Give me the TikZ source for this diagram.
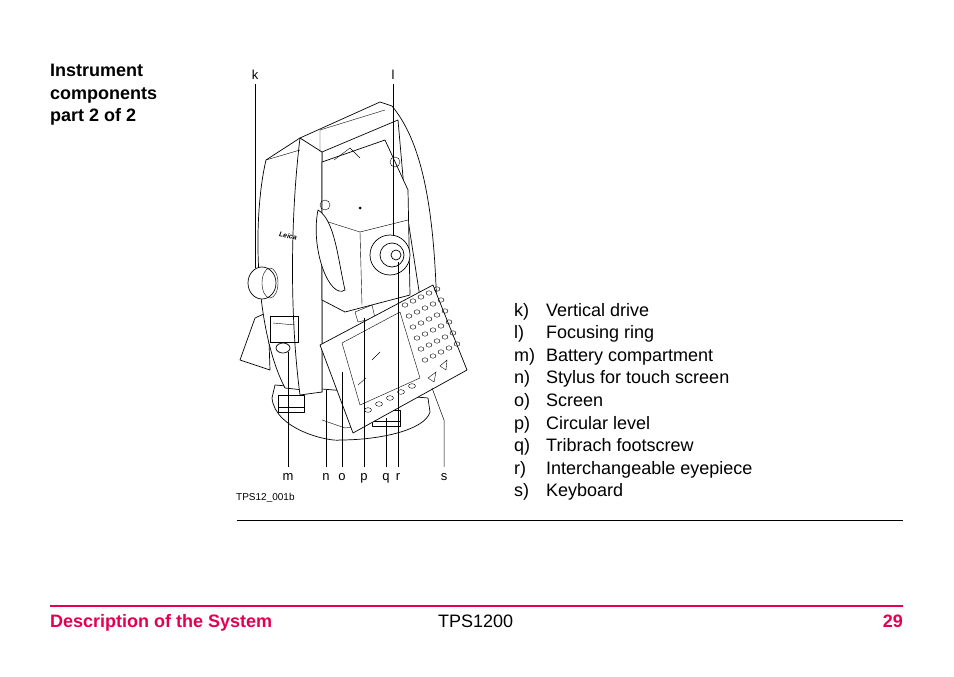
\documentclass[tikz,border=0pt]{standalone}
\usepackage{fontspec}
\setmainfont{Liberation Sans}
\usetikzlibrary{positioning,calc}
\definecolor{leicared}{RGB}{227,0,82}
\tikzset{
  body/.style={draw=black,line width=0.7pt,fill=white,line join=round},
  thin/.style={draw=black,line width=0.4pt},
  lead/.style={draw=black,line width=0.5pt},
  partlbl/.style={font=\fontsize{13}{15}\selectfont,inner sep=0pt,anchor=base},
  item/.style={font=\fontsize{18}{20}\selectfont,anchor=base west,inner sep=0pt},
}
\begin{document}
\begin{tikzpicture}[x=1pt,y=-1pt]
\useasboundingbox (0,0) rectangle (954,677);
%Kopf
\node[anchor=north west,align=left,inner sep=0pt,font=\bfseries\fontsize{18}{22.5}\selectfont] (title) at (50,64) {Instrument\\components\\part 2 of 2};
%Gestell links
\draw[body] (240,360) -- (255,318) -- (268,312) -- (270,370) -- cycle;
%Dreifuss
\draw[body] (272,398) .. controls (275,430) and (330,442) .. (340,440) .. controls (380,440) and (425,430) .. (430,412) -- (428,398) -- (275,385) -- cycle;
\draw[thin] (322,420) -- (345,428) -- (360,426);
%Stuetze links
\draw[body] (266,160) .. controls (252,220) and (255,330) .. (285,388) -- (322,392) -- (322,150) -- (300,138) -- cycle;
\draw[body] (300,138) -- (322,150) -- (322,392) -- (300,395) .. controls (290,320) and (290,220) .. (300,138);
\draw[thin] (266,160) -- (300,150);
%Fussschrauben
\draw[body] (278,395) rectangle (304,412);
\draw[thin] (278,407) -- (304,407);
\draw[body] (372,410) rectangle (400,426);
\draw[thin] (372,421) -- (400,421);
%Griff und Stuetze rechts
\draw[body] (300,138) -- (380,102) -- (392,106) .. controls (420,140) and (435,200) .. (437,320) -- (425,330) -- (405,200) -- (398,120) -- (322,152) -- cycle;
\draw[thin] (320,152) -- (320,130) -- (385,110);
%Fernrohrblock
\draw[body] (322,162) -- (385,140) -- (408,190) -- (410,295) -- (345,312) -- (322,300) -- cycle;
\draw[thin] (322,220) -- (360,232) -- (408,220);
\draw[thin] (360,232) -- (362,305);
\draw[thin] (334,160) -- (350,148) -- (360,158);
\draw[body] (318,210) .. controls (310,250) and (330,300) .. (345,290) .. controls (338,260) and (335,220) .. (318,210);
\draw[thin] (355,312) -- (372,305) -- (375,318) -- (358,322) -- cycle;
\fill (360,208) circle (1.5);
\draw[thin] (395,162) circle (5);
\draw[thin] (325,205) circle (5);
%Okular
\draw[body] (390,255) circle (20);
\draw[body] (392,255) circle (12);
\draw[body] (396,255) circle (5);
%Seitentrieb
\draw[body] (262,283) ellipse (14 and 16);
\draw[thin] (270,283) ellipse (8 and 15);
\node[font=\itshape\bfseries\fontsize{7}{8}\selectfont,rotate=-10] (logo) at (288,236) {Leica};
%Batteriefach
\draw[thin] (270,316) rectangle (298,342);
\draw[thin] (273,323) -- (295,325);
\draw[body] (283,348) ellipse (7 and 5);
%Tastatur
\draw[body] (320,345) -- (433,285) -- (467,370) -- (353,433) -- cycle;
\draw[thin] (342,343) -- (400,312) -- (420,378) -- (360,405) -- cycle;
\draw[thin] (358,385) -- (366,378) (372,360) -- (380,352);
\foreach \c in {0,...,4}{
  \foreach \r in {0,...,5}{
    \draw[thin] ($(405+8*\c,305)+(4*\r,11*\r)+(0,-4*\c)$) ellipse (3 and 2.2);
  }
}
\foreach \r in {0,...,4}{
  \draw[thin] ($(368,410)+(11*\r,-6*\r)$) ellipse (3.5 and 2.3);
}
\draw[thin] (428,378) -- (436,372) -- (434,382) -- cycle;
\draw[thin] (440,366) -- (447,360) -- (446,370) -- cycle;
%Beschriftung
\node[partlbl] (k) at (255,80) {k};
\node[partlbl] (l) at (393,80) {l};
\foreach \n/\x in {m/288,n/326,o/342,p/364,q/386,r/398,s/444}{
  \node[partlbl] (\n) at (\x,480) {\n};
}
\coordinate (kend) at (255,268);
\coordinate (lend) at (393,236);
\coordinate (mend) at (288,352);
\coordinate (nend) at (326,390);
\coordinate (oend) at (342,372);
\coordinate (pend) at (364,318);
\coordinate (qend) at (386,418);
\coordinate (rend) at (398,262);
\coordinate (send) at (432,388);
\draw[lead] ($(k.south)+(0,4)$) -- (kend);
\draw[lead] ($(l.south)+(0,4)$) -- (lend);
\foreach \n in {m,n,o,p,q,r}{
  \draw[lead] ($(\n.north)+(0,-6)$) -- (\n end);
}
\draw[lead] ($(s.north)+(0,-6)$) -- (444,420) -- (send);
\node[anchor=base west,inner sep=0pt,font=\fontsize{10}{12}\selectfont] (fig) at (236,500) {TPS12\_001b};
%Liste
\foreach \i/\t [count=\j from 0] in {k/Vertical drive,l/Focusing ring,m/Battery compartment,n/Stylus for touch screen,o/Screen,p/Circular level,q/Tribrach footscrew,r/Interchangeable eyepiece,s/Keyboard}{
  \node[item] (lbl\i) at (514,316+22.6*\j) {\i)};
  \node[item] (txt\i) at (546,316+22.6*\j) {\t};
}
\draw[line width=0.7pt] (237,520) -- (903,520);
%Fusszeile
\draw[leicared,line width=1.5pt] (50,606) -- (903,606);
\node[anchor=base west,inner sep=0pt,text=leicared,font=\bfseries\fontsize{18}{20}\selectfont] (chap) at (50,627) {Description of the System};
\node[anchor=base west,inner sep=0pt,font=\fontsize{18}{20}\selectfont] (prod) at (438,627) {TPS1200};
\node[anchor=base east,inner sep=0pt,text=leicared,font=\bfseries\fontsize{18}{20}\selectfont] (page) at (903,627) {29};
\end{tikzpicture}
\end{document}
